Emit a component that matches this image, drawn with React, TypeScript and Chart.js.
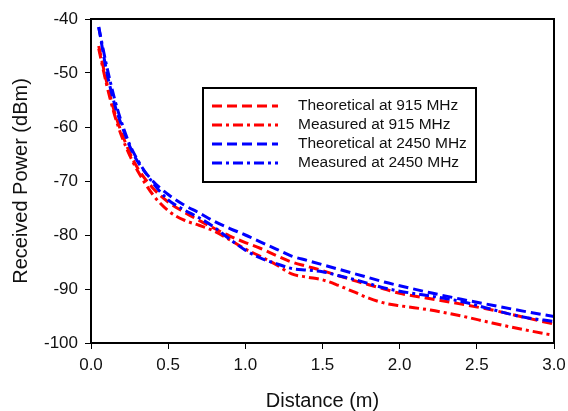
import React, { useEffect, useRef } from "react";
import { Chart, registerables } from "chart.js";

Chart.register(...registerables);

const distance = [0.05, 0.1, 0.15, 0.2, 0.25, 0.3, 0.4, 0.5, 0.6, 0.7, 0.8, 0.9, 1.0, 1.1, 1.2, 1.3, 1.4, 1.5, 1.6, 1.7, 1.8, 1.9, 2.0, 2.2, 2.4, 2.6, 2.8, 3.0];

const theoretical915 = [-45.0, -51.5, -57.0, -61.2, -64.7, -67.5, -71.3, -73.9, -75.7, -77.3, -78.8, -80.2, -81.4, -82.5, -83.8, -85.0, -85.8, -86.6, -87.5, -88.4, -89.2, -90.0, -90.8, -91.8, -92.8, -93.9, -95.2, -96.5];
const measured915 = [-45.5, -52.0, -57.5, -61.8, -65.2, -68.0, -72.5, -75.5, -77.2, -78.2, -79.3, -80.9, -82.6, -84.0, -85.5, -87.2, -87.8, -88.3, -89.3, -90.5, -91.7, -92.6, -93.1, -93.9, -95.0, -96.3, -97.5, -98.6];
const theoretical2450 = [-41.5, -49.5, -55.5, -59.8, -63.5, -66.3, -70.0, -72.5, -74.4, -75.9, -77.5, -78.8, -80.0, -81.3, -82.6, -83.9, -84.7, -85.5, -86.3, -87.1, -87.9, -88.7, -89.4, -90.7, -91.9, -93.0, -94.1, -95.1];
const measured2450 = [-41.5, -48.5, -54.5, -59.3, -63.2, -66.0, -70.3, -73.5, -75.3, -76.8, -78.6, -80.8, -82.8, -84.3, -85.3, -86.2, -86.5, -86.8, -87.5, -88.2, -89.0, -89.8, -90.4, -91.3, -92.3, -93.8, -95.2, -96.0];

const seriesLabels = ["Theoretical at 915 MHz", "Measured at 915 MHz", "Theoretical at 2450 MHz", "Measured at 2450 MHz"];
const xTicks = [0, 0.5, 1.0, 1.5, 2.0, 2.5, 3.0];
const yTicks = [-100, -90, -80, -70, -60, -50, -40];

const FONT = "Arial, 'Liberation Sans', sans-serif";
const DASH = [10, 5];
const DASHDOT = [10, 4, 3, 4];

const toPoints = (ys: number[]) => distance.map((x, i) => ({ x, y: ys[i] }));

const boxPlugin = {
  id: "boxPlugin",
  afterDatasetsDraw(chart: any) {
    const { ctx, chartArea } = chart;
    ctx.save();
    ctx.strokeStyle = "#000";
    ctx.lineWidth = 2;
    ctx.strokeRect(chartArea.left, chartArea.top, chartArea.right - chartArea.left, chartArea.bottom - chartArea.top);
    ctx.restore();
  },
};

const legendPlugin = {
  id: "boxLegend",
  afterDraw(chart: any) {
    const { ctx } = chart;
    ctx.save();
    const bx = 203, by = 88, bw = 273, bh = 94;
    ctx.fillStyle = "#fff";
    ctx.fillRect(bx, by, bw, bh);
    ctx.strokeStyle = "#000";
    ctx.lineWidth = 2;
    ctx.strokeRect(bx, by, bw, bh);
    const rows = [106, 125, 144, 163];
    chart.data.datasets.forEach((ds: any, i: number) => {
      const y = rows[i];
      ctx.beginPath();
      ctx.strokeStyle = ds.borderColor;
      ctx.lineWidth = 3;
      ctx.setLineDash(ds.borderDash);
      ctx.moveTo(212, y);
      ctx.lineTo(278, y);
      ctx.stroke();
      ctx.setLineDash([]);
      ctx.fillStyle = "#111";
      ctx.font = `15.5px ${FONT}`;
      ctx.textBaseline = "middle";
      ctx.textAlign = "left";
      ctx.fillText(ds.label, 298, y);
    });
    ctx.restore();
  },
};

export default function App() {
  const ref = useRef<HTMLCanvasElement | null>(null);
  useEffect(() => {
    document.body.style.margin = "0";
    const canvas = ref.current;
    if (!canvas) return;
    const mk = (label: string, ys: number[], color: string, dash: number[], order: number) => ({
      label,
      data: toPoints(ys),
      borderColor: color,
      backgroundColor: color,
      borderWidth: 3,
      borderDash: dash,
      pointRadius: 0,
      fill: false,
      tension: 0.35,
      cubicInterpolationMode: "monotone",
      order,
    });
    const chart = new Chart(canvas, {
      type: "line",
      data: {
        datasets: [
          mk(seriesLabels[0], theoretical915, "#ff0000", DASH, 4),
          mk(seriesLabels[1], measured915, "#ff0000", DASHDOT, 3),
          mk(seriesLabels[2], theoretical2450, "#0000ff", DASH, 2),
          mk(seriesLabels[3], measured2450, "#0000ff", DASHDOT, 1),
        ] as any,
      },
      options: {
        animation: false,
        responsive: false,
        maintainAspectRatio: false,
        layout: { padding: { top: 19, right: 14, left: 0, bottom: 0 } },
        plugins: { legend: { display: false }, tooltip: { enabled: false } },
        scales: {
          x: {
            type: "linear",
            min: 0,
            max: 3,
            afterFit: (s: any) => { s.height = 68; s.paddingLeft = 0; s.paddingRight = 0; },
            afterBuildTicks: (s: any) => { s.ticks = xTicks.map((v) => ({ value: v })); },
            ticks: {
              callback: (v: any) => Number(v).toFixed(1),
              color: "#111",
              font: { family: FONT, size: 17 },
              padding: 6,
              maxRotation: 0,
            },
            grid: { drawOnChartArea: false, drawTicks: true, tickLength: 6, color: "#000", lineWidth: 1 },
            border: { color: "#000", width: 2 },
            title: { display: true, text: "Distance (m)", color: "#111", font: { family: FONT, size: 20, lineHeight: 1 }, padding: { top: 0, bottom: 0 } },
          },
          y: {
            type: "linear",
            min: -100,
            max: -40,
            afterFit: (s: any) => { s.width = 91; s.paddingTop = 0; s.paddingBottom = 0; },
            afterBuildTicks: (s: any) => { s.ticks = yTicks.map((v) => ({ value: v })); },
            ticks: {
              color: "#111",
              font: { family: FONT, size: 17 },
              padding: 7,
            },
            grid: { drawOnChartArea: false, drawTicks: true, tickLength: 6, color: "#000", lineWidth: 1 },
            border: { color: "#000", width: 2 },
            title: { display: true, text: "Received Power (dBm)", color: "#111", font: { family: FONT, size: 20, lineHeight: 1 }, padding: { top: 11, bottom: 0 } },
          },
        },
      },
      plugins: [boxPlugin, legendPlugin],
    });
    return () => chart.destroy();
  }, []);
  return (
    <div style={{ width: 568, height: 411, background: "#fff" }}>
      <canvas ref={ref} width={568} height={411} style={{ display: "block" }} />
    </div>
  );
}
